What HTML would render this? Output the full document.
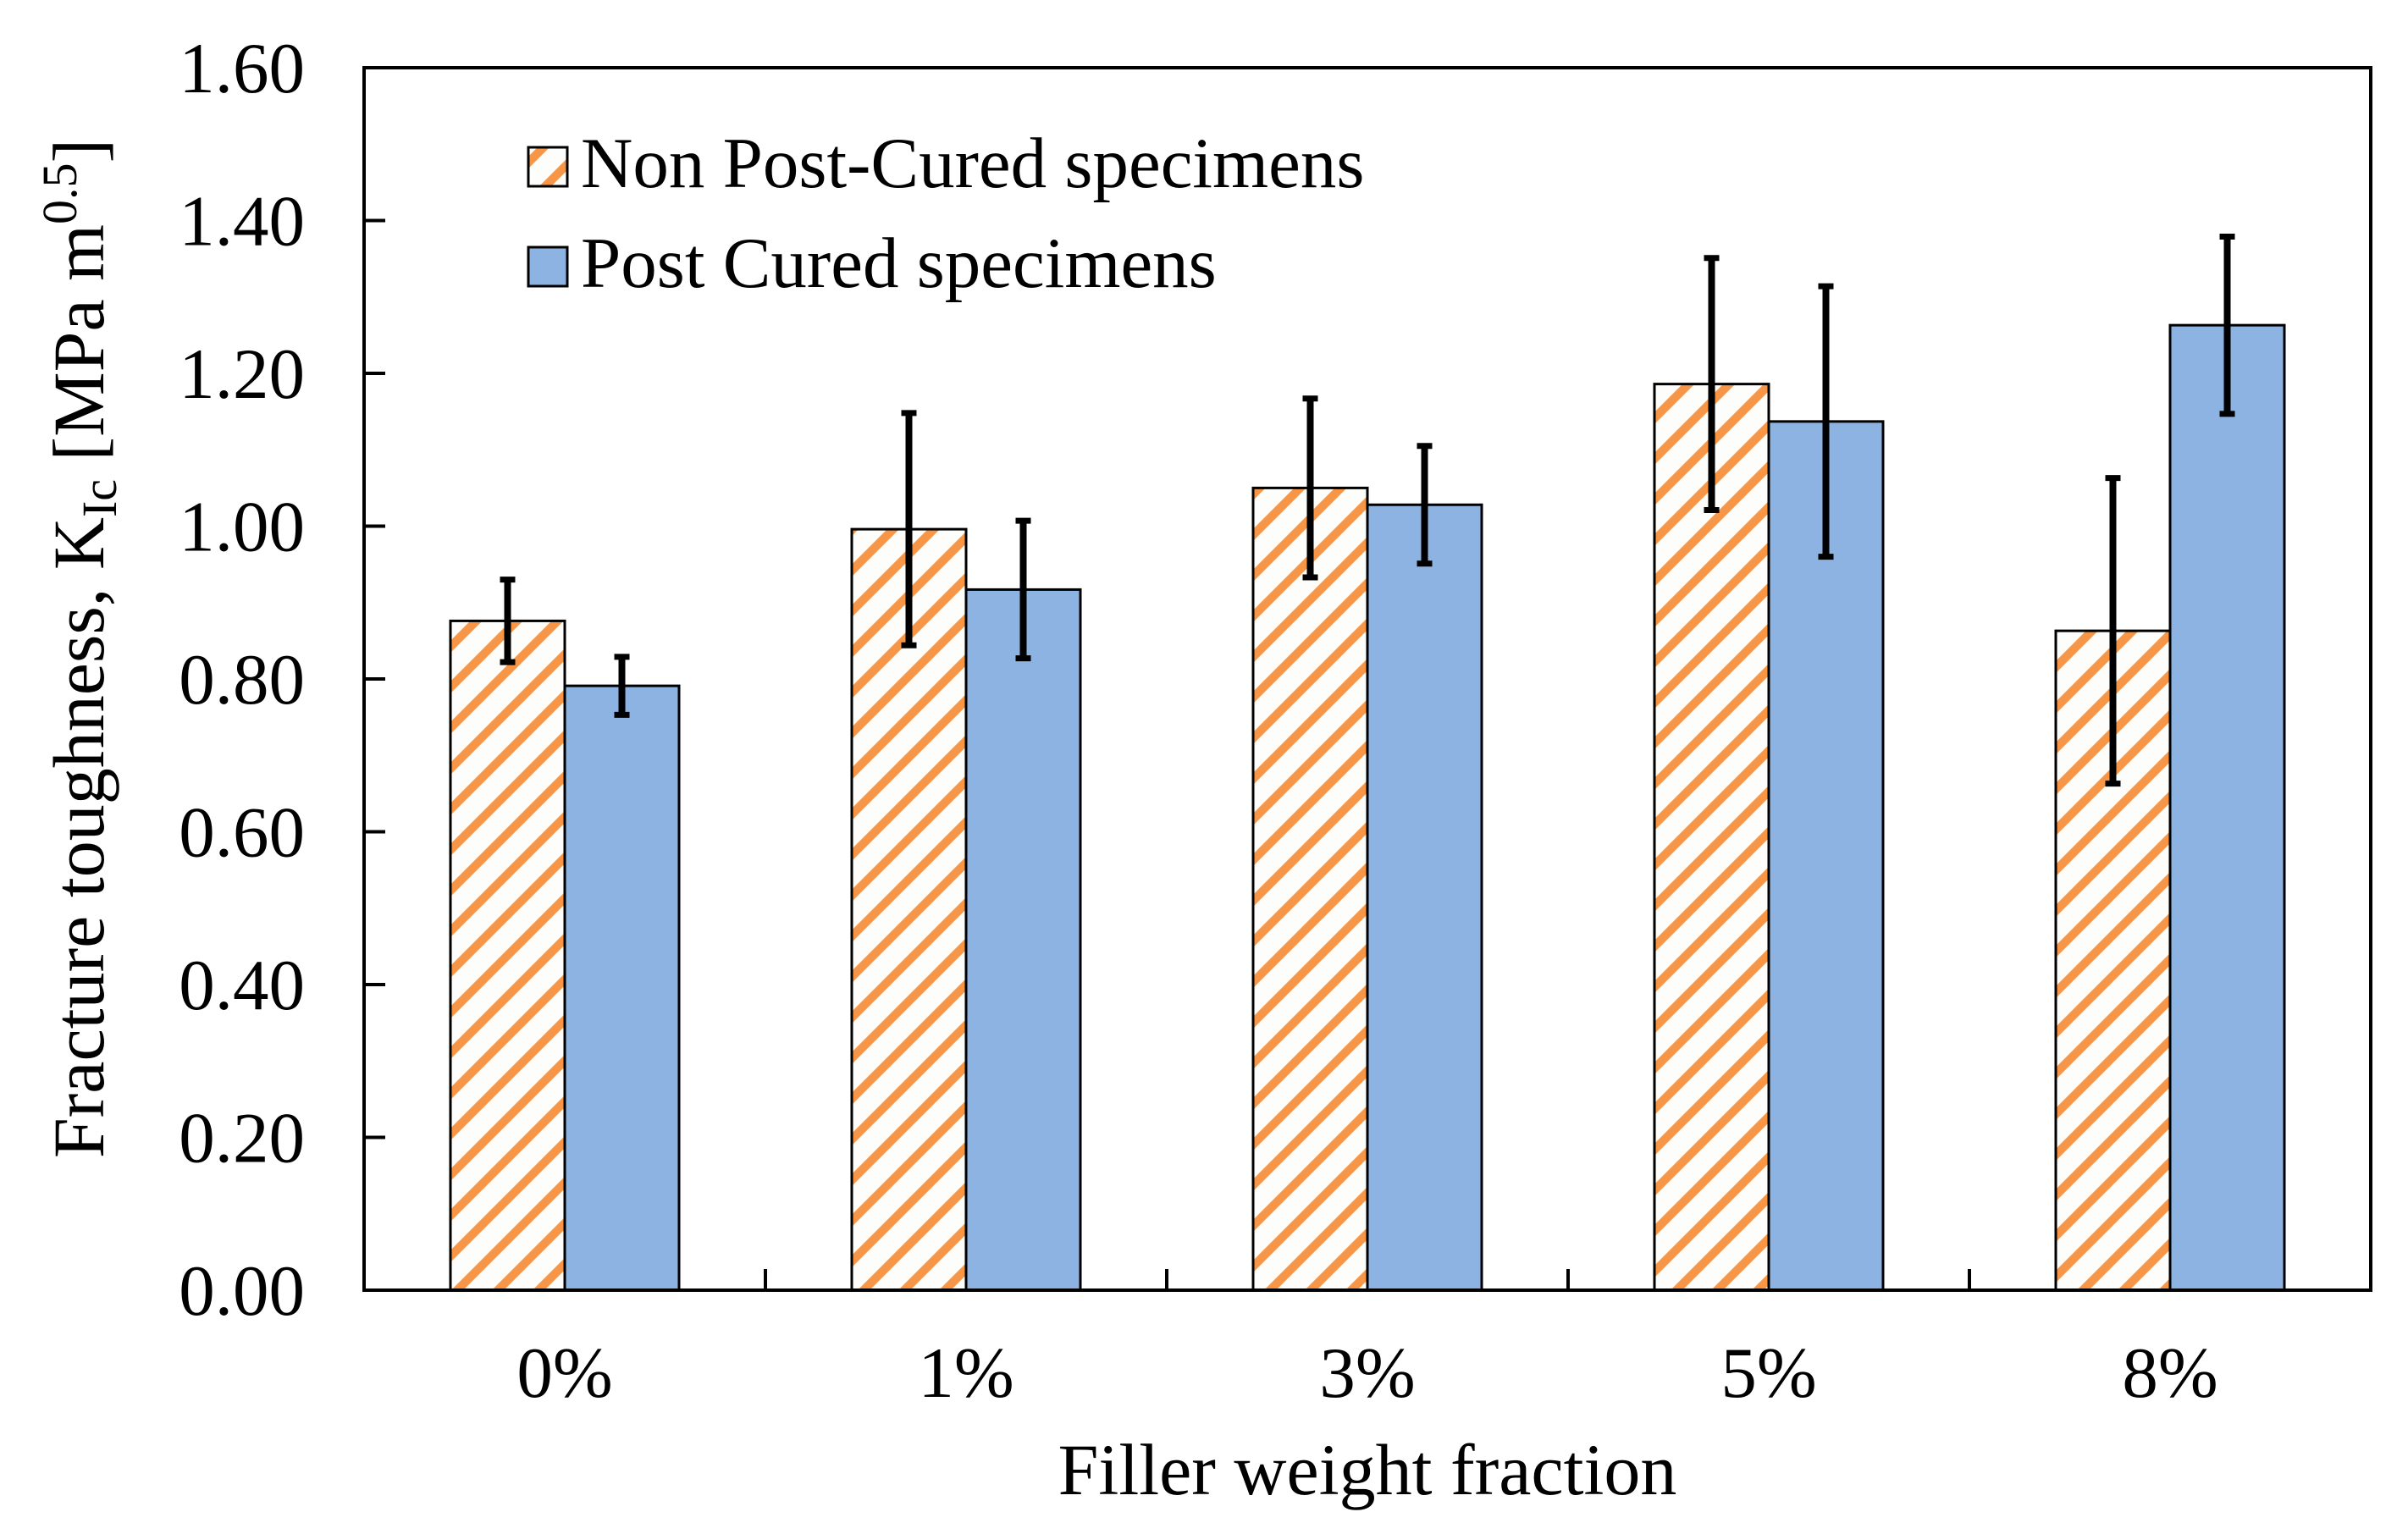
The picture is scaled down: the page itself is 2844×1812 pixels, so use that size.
<!DOCTYPE html>
<html><head><meta charset="utf-8"><style>
html,body{margin:0;padding:0;background:#fff;}
svg{display:block;font-family:"Liberation Serif",serif;}
</style></head><body>
<svg id="chart" width="2844" height="1812" viewBox="0 0 2844 1812">
<defs>
<pattern id="hatch" patternUnits="userSpaceOnUse" width="48" height="48">
<rect width="48" height="48" fill="#fdfefc"/>
<path d="M-12,12 L12,-12 M0,48 L48,0 M36,60 L60,36" stroke="#F79646" stroke-width="10"/>
</pattern>
</defs>
<g id="plot"></g>
</svg>
<script>
const categories = ["0%","1%","3%","5%","8%"];
const nonPostCured = [0.876,0.996,1.05,1.186,0.863];
const nonPostErr = [0.054,0.152,0.117,0.165,0.2];
const postCured = [0.791,0.917,1.028,1.137,1.263];
const postErr = [0.038,0.09,0.077,0.177,0.116];
const yTicks = [0,0.2,0.4,0.6,0.8,1.0,1.2,1.4,1.6];
const yTickLabels = ["0.00","0.20","0.40","0.60","0.80","1.00","1.20","1.40","1.60"];

const NS="http://www.w3.org/2000/svg";
const L=430,R=2800,T=80,B=1524,yMax=1.6;
const g=document.getElementById('plot');
function y(v){return B-(v/yMax)*(B-T);}
const band=(R-L)/categories.length;
function xc(i){return L+band*(i+0.5);}
const bw=135;
function el(tag,attrs,parent){const e=document.createElementNS(NS,tag);for(const k in attrs)e.setAttribute(k,attrs[k]);(parent||g).appendChild(e);return e;}

yTicks.forEach((v,i)=>{
  if(i>0&&i<yTicks.length-1){const t=el('line',{x1:L,x2:L+25,y1:y(v),y2:y(v),stroke:'#000','stroke-width':4});
  
  }
  const tx=el('text',{x:360,y:y(v)+29,'font-size':85,'text-anchor':'end',fill:'#000'});
  tx.textContent=yTickLabels[i];
  
  
});
for(let i=1;i<categories.length;i++){
  const xx=L+band*i;
  const t=el('line',{x1:xx,x2:xx,y1:B,y2:B-25,stroke:'#000','stroke-width':4});
  
  
}
function errBar(cx,v,e){
  const gg=el('g',{});
  
  
  el('line',{x1:cx,x2:cx,y1:y(v+e),y2:y(v-e),stroke:'#000','stroke-width':8},gg);
  el('line',{x1:cx-9,x2:cx+9,y1:y(v+e),y2:y(v+e),stroke:'#000','stroke-width':7},gg);
  el('line',{x1:cx-9,x2:cx+9,y1:y(v-e),y2:y(v-e),stroke:'#000','stroke-width':7},gg);
}
categories.forEach((c,i)=>{
  const cx=xc(i);
  const b1=el('rect',{x:cx-bw,y:y(nonPostCured[i]),width:bw,height:B-y(nonPostCured[i]),fill:'url(#hatch)',stroke:'#000','stroke-width':3});
  
  
  const b2=el('rect',{x:cx,y:y(postCured[i]),width:bw,height:B-y(postCured[i]),fill:'#8DB3E2',stroke:'#000','stroke-width':3});
  
  
  errBar(cx-bw/2,nonPostCured[i],nonPostErr[i]);
  errBar(cx+bw/2,postCured[i],postErr[i]);
  const tx=el('text',{x:cx,y:1650,'font-size':85,'text-anchor':'middle',fill:'#000'});
  tx.textContent=c;
  
  
});
const frame=el('rect',{x:L,y:T,width:R-L,height:B-T,fill:'none',stroke:'#000','stroke-width':4});


</script>
<svg width="2844" height="1812" style="position:absolute;left:0;top:0" viewBox="0 0 2844 1812">
<defs><pattern id="hatch2" patternUnits="userSpaceOnUse" width="48" height="48"><rect width="48" height="48" fill="#fdfefc"/><path d="M-12,12 L12,-12 M0,48 L48,0 M36,60 L60,36" stroke="#F79646" stroke-width="10"/></pattern></defs>
<g>
<rect x="624" y="174" width="46" height="46" fill="url(#hatch2)" stroke="#000" stroke-width="3"/>
<text x="686" y="221" font-size="85" font-family="Liberation Serif, serif">Non Post-Cured specimens</text>
<rect x="624" y="292" width="46" height="46" fill="#8DB3E2" stroke="#000" stroke-width="3"/>
<text x="686" y="339" font-size="85" font-family="Liberation Serif, serif">Post Cured specimens</text>
</g>
<text x="1615" y="1765" font-size="86" text-anchor="middle" font-family="Liberation Serif, serif">Filler weight fraction</text>
<text transform="translate(122,766) rotate(-90)" font-size="86" text-anchor="middle" font-family="Liberation Serif, serif">Fracture toughness, K<tspan font-size="58" dy="15">Ic</tspan><tspan dy="-15"> [MPa m</tspan><tspan font-size="58" dy="-32">0.5</tspan><tspan dy="32">]</tspan></text>
</svg>
</body></html>
